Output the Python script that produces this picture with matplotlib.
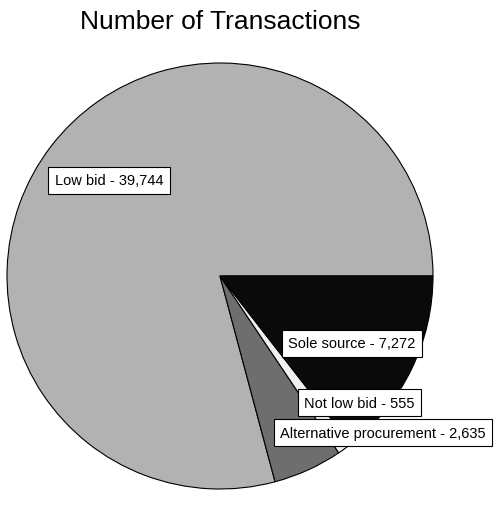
import matplotlib.pyplot as plt

plt.rcParams['font.family'] = ['Liberation Sans', 'DejaVu Sans']

labels = ['Low bid', 'Alternative procurement', 'Not low bid', 'Sole source']
counts = [39744, 2635, 555, 7272]
colors = ['#b2b2b2', '#6e6e6e', '#f0f0f0', '#0a0a0a']
# label positions in pie coordinates (radius 1)
label_pos = [(-0.52, 0.45), (0.765, -0.735), (0.655, -0.595), (0.62, -0.315)]

fig = plt.figure(figsize=(4.98, 5.10), dpi=100)
ax = fig.add_axes([7 / 498, 20 / 510, 426 / 498, 426 / 510])

ax.pie(counts, colors=colors, startangle=0, counterclock=True, radius=1,
       wedgeprops=dict(edgecolor='black', linewidth=0.8))

for lab, n, (x, y) in zip(labels, counts, label_pos):
    ax.text(x, y, f'{lab} - {n:,}', ha='center', va='center', fontsize=10.5,
            bbox=dict(boxstyle='square,pad=0.45', facecolor='white',
                      edgecolor='black', linewidth=0.8))

ax.set_xlim(-1, 1)
ax.set_ylim(-1, 1)
ax.set_aspect('equal')
ax.axis('off')

fig.text(220 / 498, 1 - 22 / 510, 'Number of Transactions', ha='center',
         va='center', fontsize=19)

plt.savefig('out.png', dpi=100)
